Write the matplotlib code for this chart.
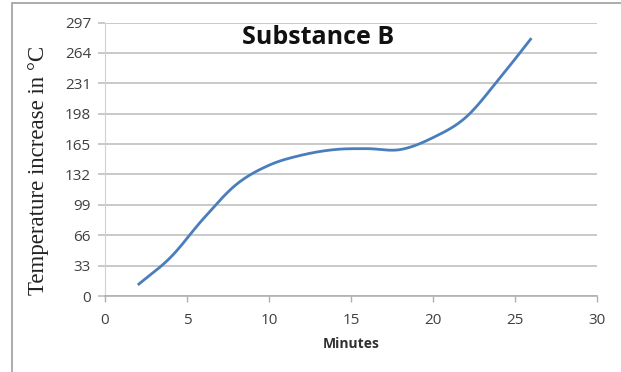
import numpy as np
import matplotlib
matplotlib.use("Agg")
import matplotlib.pyplot as plt
from matplotlib.patches import Rectangle

# Measured temperature rise of substance B
minutes = [2, 4, 6, 8, 10, 12, 14, 16, 18, 20, 22, 24, 26]
temperature = [12, 42, 84, 121, 142, 153, 159, 160, 159, 172, 194, 235, 280]

x_ticks = [0, 5, 10, 15, 20, 25, 30]
y_ticks = [0, 33, 66, 99, 132, 165, 198, 231, 264, 297]


def smooth_curve(xs, ys, steps=30):
    """Catmull-Rom spline through the points (spreadsheet-style smoothed line)."""
    xs = np.asarray(xs, float)
    ys = np.asarray(ys, float)
    px = np.concatenate([[2 * xs[0] - xs[1]], xs, [2 * xs[-1] - xs[-2]]])
    py = np.concatenate([[2 * ys[0] - ys[1]], ys, [2 * ys[-1] - ys[-2]]])
    out_x, out_y = [], []
    t = np.linspace(0, 1, steps, endpoint=False)
    for i in range(1, len(px) - 2):
        for arr, src in ((out_x, px), (out_y, py)):
            p0, p1, p2, p3 = src[i - 1], src[i], src[i + 1], src[i + 2]
            arr.extend(0.5 * ((2 * p1) + (-p0 + p2) * t
                              + (2 * p0 - 5 * p1 + 4 * p2 - p3) * t ** 2
                              + (-p0 + 3 * p1 - 3 * p2 + p3) * t ** 3))
    out_x.append(xs[-1])
    out_y.append(ys[-1])
    return np.array(out_x), np.array(out_y)


fig = plt.figure(figsize=(6.21, 3.72), dpi=100)
fig.patch.set_facecolor("white")

# outer chart frame
fig.add_artist(Rectangle((12 / 621, -0.1), 1.2, 1.1 - 3 / 372,
                         transform=fig.transFigure, fill=False,
                         edgecolor="#a6a6a6", linewidth=1.3))

ax = fig.add_axes([105 / 621, 1 - 296 / 372, (597 - 105) / 621, (296 - 22.5) / 372])

sx, sy = smooth_curve(minutes, temperature)
ax.plot(sx, sy, color="#4a7ebb", linewidth=2.0, solid_capstyle="butt", zorder=3)

ax.set_xlim(0, 30)
ax.set_ylim(0, 297)
ax.set_xticks(x_ticks)
ax.set_yticks(y_ticks)
ax.set_xticklabels([str(v) for v in x_ticks], fontfamily="Open Sans",
                   fontsize=11, color="#404040")
ax.set_yticklabels([str(v) for v in y_ticks], fontfamily="Open Sans",
                   fontsize=11, color="#404040")

ax.yaxis.grid(True, color="#c0c0c0", linewidth=1.2)
ax.set_axisbelow(True)
for side in ("top", "right"):
    ax.spines[side].set_visible(False)
ax.spines["left"].set_color("#d0d0d0")
ax.spines["bottom"].set_color("#b0b0b0")
ax.spines["bottom"].set_linewidth(1.2)
ax.tick_params(axis="y", length=5, color="#c0c0c0", width=1.2, pad=5)
ax.tick_params(axis="x", length=4, color="#b0b0b0", width=1.0, pad=8)

ax.set_xlabel("Minutes", fontfamily="Open Sans", fontweight="bold",
              fontsize=10, color="#303030", labelpad=7)
fig.text(39 / 621, 1 - 170 / 372, "Temperature increase in °C",
         rotation=90, ha="center", va="center",
         fontfamily="Liberation Serif", fontsize=16.5, color="#222222")

fig.text(318 / 621, 1 - 37 / 372, "Substance B", ha="center", va="center",
         fontfamily="Open Sans", fontweight="bold", fontsize=18, color="#111111")

fig.savefig("out.png", dpi=100)
